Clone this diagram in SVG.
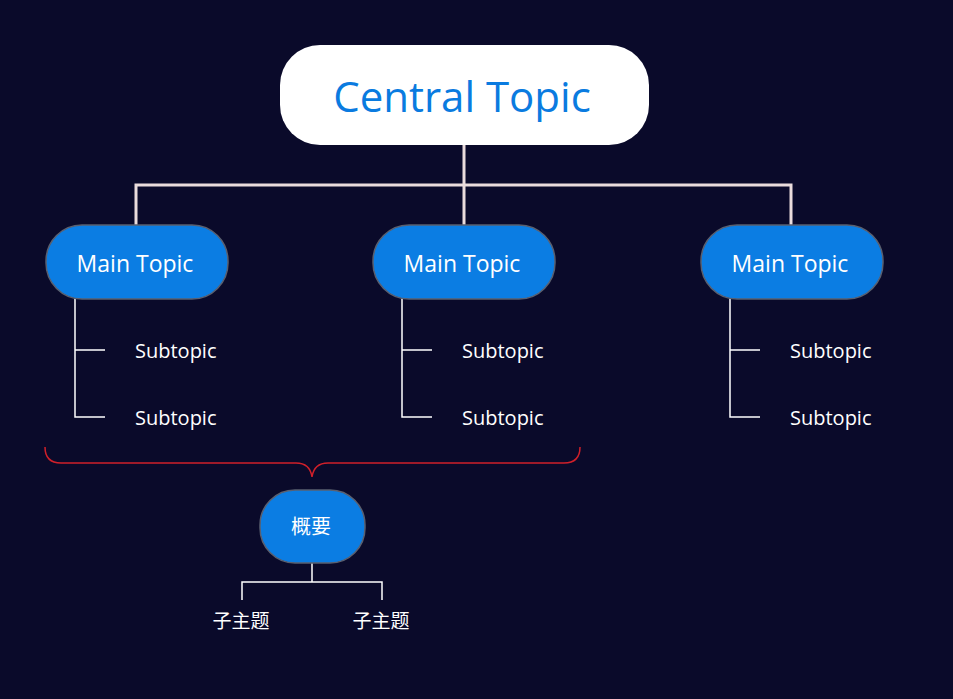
<svg xmlns="http://www.w3.org/2000/svg" width="953" height="699" viewBox="0 0 953 699">
<style>
.mt{fill:#0b7de3;stroke:#5a6070;stroke-width:1.5}
.mtt{fill:#fff;font-family:"Open Sans","Noto Sans",sans-serif;font-size:23px;text-anchor:middle}
.st{fill:#fff;font-family:"Open Sans","Noto Sans",sans-serif;font-size:20px}
.cj{fill:#fff;font-family:"Noto Sans CJK SC",sans-serif;font-size:19px;text-anchor:middle}
.ln{fill:none;stroke:#fff;stroke-width:1.5}
</style>
<rect width="953" height="699" fill="#0a0a2a"/>
<g id="connectors">
<path d="M464 145V185M136 225V185H791V225M464 185V225" fill="none" stroke="#eadcdc" stroke-width="3"/>
<path class="ln" d="M75 299V417H105M75 350H105M402 299V417H432M402 350H432M730 299V417H760M730 350H760"/>
<path d="M45 447Q45 463 61 463H296Q310 463 312 477Q314 463 328 463H564Q580 463 580 447" fill="none" stroke="#d0202a" stroke-width="1.5"/>
<path class="ln" d="M312 563V582M242 600V582H382V600"/>
</g>
<g id="central"><rect x="280" y="45" width="369" height="100" rx="40" fill="#fff"/><text x="462" y="112" fill="#0a7be0" font-family="Open Sans,Noto Sans,sans-serif" font-size="42" text-anchor="middle">Central Topic</text></g>
<g id="main1"><rect class="mt" x="46" y="225" width="182" height="74" rx="36"/><text class="mtt" x="135" y="272">Main Topic</text></g>
<g id="main2"><rect class="mt" x="373" y="225" width="182" height="74" rx="36"/><text class="mtt" x="462" y="272">Main Topic</text></g>
<g id="main3"><rect class="mt" x="701" y="225" width="182" height="74" rx="36"/><text class="mtt" x="790" y="272">Main Topic</text></g>
<g id="subs">
<text class="st" x="135" y="358">Subtopic</text><text class="st" x="135" y="425">Subtopic</text>
<text class="st" x="462" y="358">Subtopic</text><text class="st" x="462" y="425">Subtopic</text>
<text class="st" x="790" y="358">Subtopic</text><text class="st" x="790" y="425">Subtopic</text>
</g>
<g id="summary"><rect class="mt" x="260" y="490" width="105" height="73" rx="35"/><text class="cj" x="311" y="534" style="font-size:20px">概要</text></g>
<g id="sub-cn1"><text class="cj" x="241" y="628">子主题</text></g>
<g id="sub-cn2"><text class="cj" x="381" y="628">子主题</text></g>
</svg>
